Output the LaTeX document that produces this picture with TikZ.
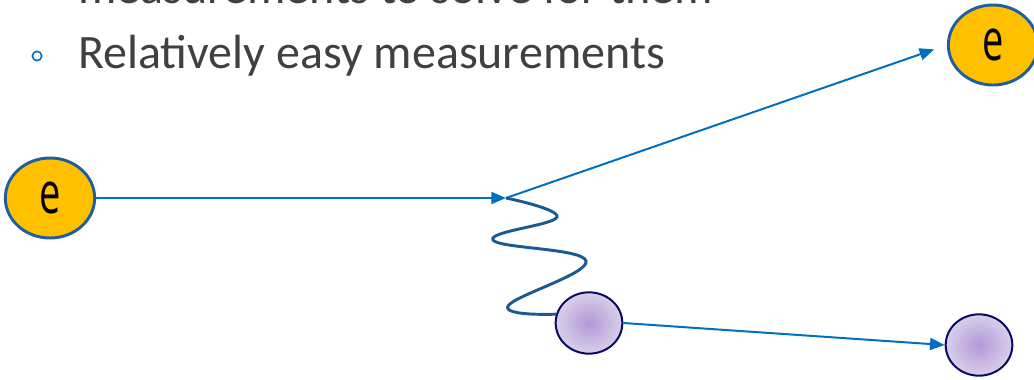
\documentclass[tikz,border=0pt]{standalone}
\usepackage{fontspec}
\setmainfont{Carlito}
\newfontfamily\labelfont{Open Sans}
\usetikzlibrary{arrows.meta,shapes.geometric}

\definecolor{lineblue}{HTML}{0070C0}
\definecolor{waveblue}{HTML}{1A5A94}
\definecolor{egold}{HTML}{FFC000}
\definecolor{eborder}{HTML}{1F5F9F}
\definecolor{textgray}{HTML}{404040}
\definecolor{pin}{HTML}{B199D6}
\definecolor{pout}{HTML}{D9CFEA}
\definecolor{pborder}{HTML}{0A0A66}

\tikzstyle{electron} = [ellipse, draw=eborder, line width=2.2pt, fill=egold,
    minimum width=67pt, minimum height=60pt, inner sep=0pt,
    font=\labelfont\fontsize{30}{30}\selectfont]
\tikzstyle{proton} = [ellipse, draw=pborder, line width=1.5pt,
    shading=radial, inner color=pin, outer color=pout,
    minimum width=50pt, minimum height=46pt, inner sep=0pt]
\tikzstyle{track} = [draw=lineblue, line width=1.5pt,
    -{Triangle[length=11pt,width=9pt]}]
\tikzstyle{bulletline} = [anchor=base west, text=textgray,
    font=\fontsize{36}{36}\selectfont, inner sep=0pt]

\begin{document}
\begin{tikzpicture}[x=0.75pt, y=-0.75pt]
\useasboundingbox (0,0) rectangle (1034,379);

% bullet text
\node[bulletline] (prev) at (78,3) {measurements to solve for them};
\node[bulletline] (easy) at (78,68) {Relatively easy measurements};
\node[circle, draw=lineblue, line width=1.2pt, minimum size=7pt, inner sep=0pt]
    (dot) at (37,56) {};

% particles
\node[electron] (ein) at (50,198) {\scalebox{0.95}[1.45]{e}};
\node[electron] (eout) at (993,45) {\scalebox{0.95}[1.45]{e}};
\node[proton] (pin) at (589,323) {};
\node[proton] (pout) at (979,345) {};
\coordinate (vtx) at (506,198);

% tracks
\draw[track] (ein.east) -- (vtx);
\draw[track, shorten >=10pt] (vtx) -- (eout.west);
\draw[track] (pin.east) -- (pout.west);

% photon
\draw[waveblue, line width=2.2pt] plot[smooth, tension=0.7] coordinates
    {(vtx) (557,217) (493,240) (586,261) (508,306) (pin.165)};
\end{tikzpicture}
\end{document}
